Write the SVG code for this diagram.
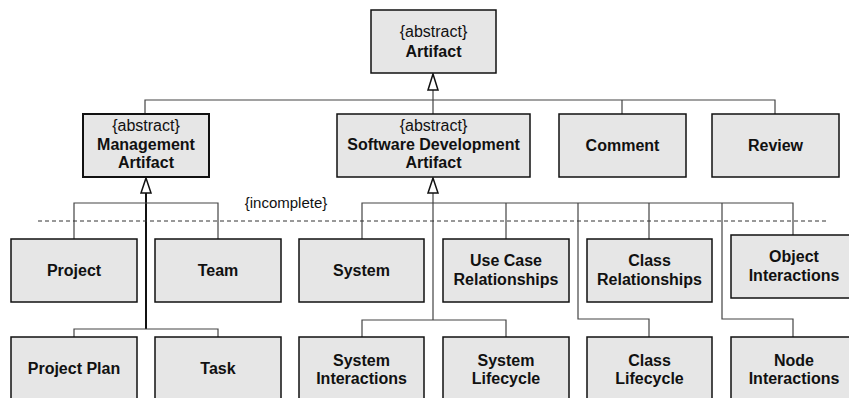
<svg xmlns="http://www.w3.org/2000/svg" width="849" height="398" viewBox="0 0 849 398">
<defs>
<style>
.box{fill:#e6e6e6;stroke:#111;stroke-width:1.5}
.t{font-family:"Liberation Sans",Arial,sans-serif;font-size:16px;text-anchor:middle;fill:#111}
.b{font-weight:bold}
.c{fill:none;stroke:#444;stroke-width:1.2}
.ck{fill:none;stroke:#111;stroke-width:2}
.tri{fill:#fff;stroke:#111;stroke-width:1.5}
.dash{fill:none;stroke:#333;stroke-width:1;stroke-dasharray:4 3}
</style>
</defs>
<rect width="849" height="398" fill="#fff"/>
<g id="connectors">
<path class="c" d="M433 90V100M145 114V100H775V114M433 100V114M622 100V114"/>
<polygon class="tri" points="433,74 428,90 438,90"/>
<path class="ck" d="M146 193V329"/>
<path class="c" d="M74 239V203H218V239M74 337V329H218V337"/>
<polygon class="tri" points="146,178 141,193 151,193"/>
<path class="c" d="M433 193V320M362 239V203H793V235M506 203V239M649 203V239M578 203V319H649V337M722 203V319H793V337M362 337V320H506V337"/>
<polygon class="tri" points="433,178 428,193 438,193"/>
<path class="dash" d="M38 221H827"/>
<text class="t" x="286" y="208" style="font-size:15px">{incomplete}</text>
</g>
<g id="artifact"><rect class="box" x="371" y="10" width="125" height="63"/><text class="t" x="433.5" y="36.5">{abstract}</text><text class="t b" x="433.5" y="56.5">Artifact</text></g>
<g id="management"><rect class="box" x="83" y="114" width="126" height="63" style="stroke-width:2"/><text class="t" x="146" y="131">{abstract}</text><text class="t b" x="146" y="150">Management</text><text class="t b" x="146" y="168">Artifact</text></g>
<g id="sda"><rect class="box" x="337" y="114" width="193" height="63"/><text class="t" x="433.5" y="131">{abstract}</text><text class="t b" x="433.5" y="150">Software Development</text><text class="t b" x="433.5" y="168">Artifact</text></g>
<g id="comment"><rect class="box" x="559" y="114" width="127" height="63"/><text class="t b" x="622.5" y="151">Comment</text></g>
<g id="review"><rect class="box" x="712" y="114" width="127" height="63"/><text class="t b" x="775.5" y="151">Review</text></g>
<g id="project"><rect class="box" x="11" y="239" width="126" height="63"/><text class="t b" x="74" y="276">Project</text></g>
<g id="team"><rect class="box" x="155" y="239" width="126" height="63"/><text class="t b" x="218" y="276">Team</text></g>
<g id="system"><rect class="box" x="299" y="239" width="125" height="63"/><text class="t b" x="361.5" y="276">System</text></g>
<g id="usecase"><rect class="box" x="443" y="239" width="126" height="63"/><text class="t b" x="506" y="266">Use Case</text><text class="t b" x="506" y="285">Relationships</text></g>
<g id="classrel"><rect class="box" x="587" y="239" width="125" height="63"/><text class="t b" x="649.5" y="266">Class</text><text class="t b" x="649.5" y="285">Relationships</text></g>
<g id="objectint"><rect class="box" x="731" y="235" width="126" height="63"/><text class="t b" x="794" y="262">Object</text><text class="t b" x="794" y="281">Interactions</text></g>
<g id="projectplan"><rect class="box" x="11" y="337" width="126" height="63"/><text class="t b" x="74" y="374">Project Plan</text></g>
<g id="task"><rect class="box" x="155" y="337" width="126" height="63"/><text class="t b" x="218" y="374">Task</text></g>
<g id="sysint"><rect class="box" x="299" y="337" width="125" height="63"/><text class="t b" x="361.5" y="366">System</text><text class="t b" x="361.5" y="384">Interactions</text></g>
<g id="syslife"><rect class="box" x="443" y="337" width="126" height="63"/><text class="t b" x="506" y="366">System</text><text class="t b" x="506" y="384">Lifecycle</text></g>
<g id="classlife"><rect class="box" x="587" y="337" width="125" height="63"/><text class="t b" x="649.5" y="366">Class</text><text class="t b" x="649.5" y="384">Lifecycle</text></g>
<g id="nodeint"><rect class="box" x="731" y="337" width="126" height="63"/><text class="t b" x="794" y="366">Node</text><text class="t b" x="794" y="384">Interactions</text></g>
</svg>
